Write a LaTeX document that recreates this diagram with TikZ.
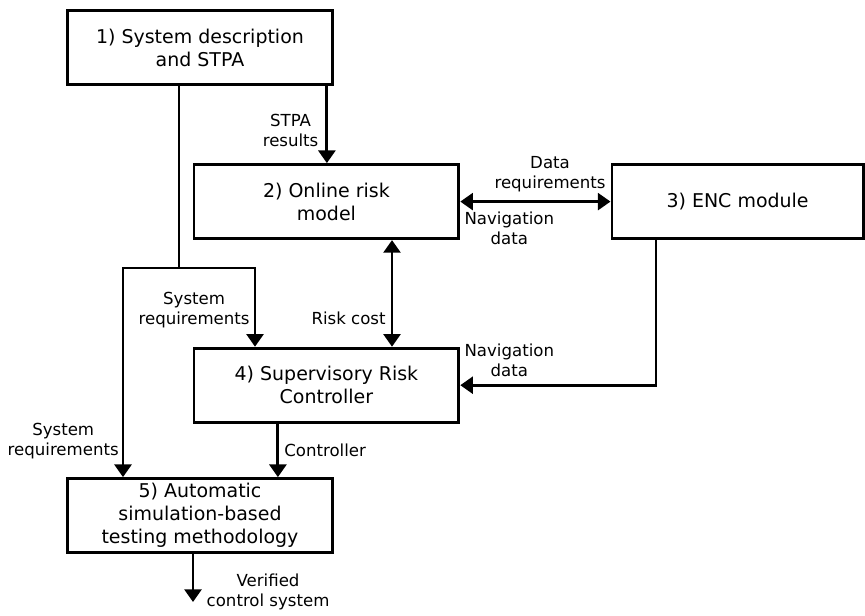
\documentclass[tikz,border=0pt]{standalone}
\usepackage{fontspec}
\setmainfont{DejaVu Sans}
\usetikzlibrary{positioning,arrows.meta,calc}
\tikzset{
  blk/.style={draw, line width=2.1pt, minimum width=6.62cm, minimum height=1.85cm,
              align=center, font=\fontsize{13.5}{16.3}\selectfont, inner sep=2pt},
  lbl/.style={font=\fontsize{11.8}{14.2}\selectfont, align=center, inner sep=1pt},
  flow/.style={-{Triangle[length=9pt, width=12pt]}, line width=2.1pt},
  biflow/.style={{Triangle[length=9pt, width=12pt]}-{Triangle[length=9pt, width=12pt]}, line width=2.1pt},
  wire/.style={line width=2.1pt}
}

\begin{document}
\begin{tikzpicture}
    \useasboundingbox (0,0) rectangle (21.625,-15.375);
    \node[blk] (sys) at (5.00,-1.19) {1) System description\\and STPA};
    \node[blk] (risk) at (8.16,-5.04) {2) Online risk\\model};
    \node[blk, minimum width=6.28cm] (enc) at (18.44,-5.04) {3) ENC module};
    \node[blk] (ctrl) at (8.16,-9.63) {4) Supervisory Risk\\Controller};
    \node[blk] (test) at (5.00,-12.89) {5) Automatic\\simulation-based\\testing methodology};
    % requirements split
    \coordinate (split) at (4.475,-6.7);
    \coordinate (reqL) at (3.075,-6.7);
    \coordinate (reqR) at (6.375,-6.7);
    \coordinate (cout) at ($(ctrl.south)+(-1.2125,0)$);
    \coordinate (done) at (4.825,-15.05);
    \draw[wire] (sys.south -| split) -- (split);
    \draw[flow] (split) -- (reqR) -- node[lbl, anchor=south east, pos=0.80, xshift=-1.8pt]{System\\requirements} (reqR |- ctrl.north);
    \draw[flow] (split) -- (reqL) -- node[lbl, anchor=south east, pos=0.925, xshift=-1pt]{System\\requirements} (reqL |- test.north);
    \draw[flow] ([xshift=-1.75mm]sys.south east) -- node[lbl, anchor=south east, pos=0.82, xshift=-4pt]{STPA\\results} ([xshift=-1.75mm]sys.south east |- risk.north);
    \draw[biflow] (risk.east) -- node[lbl, anchor=south east, pos=1, xshift=-1.5pt, yshift=5pt]{Data\\requirements}
                  node[lbl, anchor=north west, pos=0, xshift=1pt, yshift=-5.2pt]{Navigation\\data} (enc.west);
    \draw[biflow] ([xshift=1.64cm]risk.south) -- node[lbl, anchor=south east, pos=0.82, xshift=-2.5pt]{Risk cost} ([xshift=1.64cm]ctrl.north);
    \draw[flow] ([xshift=-2.04cm]enc.south) |- node[lbl, anchor=south west, pos=1, xshift=1pt, yshift=4pt]{Navigation\\data} (ctrl.east);
    \draw[flow] (cout) -- node[lbl, anchor=west, pos=0.5, xshift=2.5pt]{Controller} (cout |- test.north);
    \draw[flow] (test.south -| done) -- node[lbl, anchor=south west, pos=1, xshift=7.7pt, yshift=-7.8pt]{Verified\\control system} (done);
\end{tikzpicture}
\end{document}
